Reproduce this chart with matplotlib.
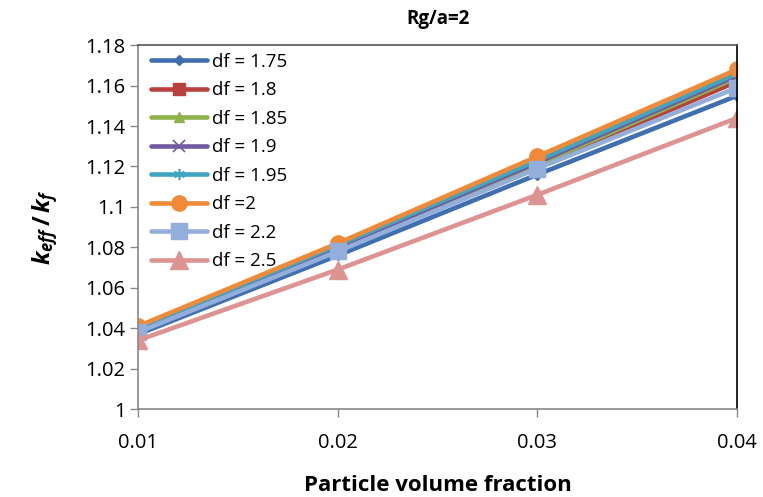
import matplotlib
matplotlib.use("Agg")
import matplotlib.pyplot as plt

plt.rcParams['font.family'] = ['Open Sans', 'DejaVu Sans']
plt.rcParams['mathtext.fontset'] = 'custom'
plt.rcParams['mathtext.it'] = 'Open Sans:italic:bold'
plt.rcParams['mathtext.rm'] = 'Open Sans:bold'

x = [0.01, 0.02, 0.03, 0.04]
labels = ["df = 1.75", "df = 1.8", "df = 1.85", "df = 1.9", "df = 1.95", "df =2", "df = 2.2", "df = 2.5"]
df_175 = [1.037, 1.076, 1.116, 1.155]
df_180 = [1.039, 1.079, 1.120, 1.162]
df_185 = [1.040, 1.080, 1.121, 1.164]
df_190 = [1.040, 1.080, 1.122, 1.165]
df_195 = [1.040, 1.081, 1.123, 1.166]
df_200 = [1.041, 1.082, 1.125, 1.168]
df_220 = [1.038, 1.078, 1.119, 1.159]
df_250 = [1.034, 1.069, 1.106, 1.144]
series = [df_175, df_180, df_185, df_190, df_195, df_200, df_220, df_250]

colors = ["#3F6FB0", "#B8403D", "#8FB24A", "#7359A0", "#3FA5C2", "#F08A36", "#93AEDA", "#DC9391"]
markers = ["D", "s", "^", "x", "*", "o", "s", "^"]
msizes = [5, 8, 7, 8, 8, 11, 12, 13]

fig = plt.figure(figsize=(7.63, 4.97), dpi=100)
ax = fig.add_axes([0.181, 0.177, 0.785, 0.732])

for s, lab, c, m, ms in zip(series, labels, colors, markers, msizes):
    kw = dict(markeredgecolor=c, markerfacecolor=c)
    if m in ("x", "*"):
        kw = dict(markeredgecolor=c, markerfacecolor=c, markeredgewidth=1.2)
        if m == "*":
            m = (6, 2, 0)
    ax.plot(x, s, color=c, lw=3.3, marker=m, markersize=ms, label=lab,
            solid_capstyle="round", **kw)

ax.set_xlim(0.01, 0.04)
ax.set_ylim(1.0, 1.18)
ax.set_xticks(x)
ax.set_xticklabels(["0.01", "0.02", "0.03", "0.04"])
ax.set_yticks([1.0, 1.02, 1.04, 1.06, 1.08, 1.1, 1.12, 1.14, 1.16, 1.18])
ax.set_yticklabels(["1", "1.02", "1.04", "1.06", "1.08", "1.1", "1.12", "1.14", "1.16", "1.18"])
ax.tick_params(axis="both", labelsize=14.5, colors="#888888", labelcolor="black", length=6, width=1)
ax.tick_params(axis="x", pad=11)
ax.tick_params(axis="y", pad=3)

for side in ("left", "bottom"):
    ax.spines[side].set_color("#888888")
ax.spines["top"].set_color("#555555")
ax.spines["right"].set_color("black")
for sp in ax.spines.values():
    sp.set_linewidth(1.2)

ax.set_title("Rg/a=2", fontsize=13.5, fontweight="bold", pad=15)
ax.set_xlabel("Particle volume fraction", fontsize=16, fontweight="bold", labelpad=16)
ax.set_ylabel(r"$k_{eff}\,/\,k_f$", fontsize=17, labelpad=18)

leg = ax.legend(loc="upper left", frameon=False, fontsize=13.5, handlelength=3.0,
                labelspacing=0.56, borderaxespad=0.1, handletextpad=0.25,
                bbox_to_anchor=(0.006, 1.005))

fig.savefig("out.png", dpi=100)
